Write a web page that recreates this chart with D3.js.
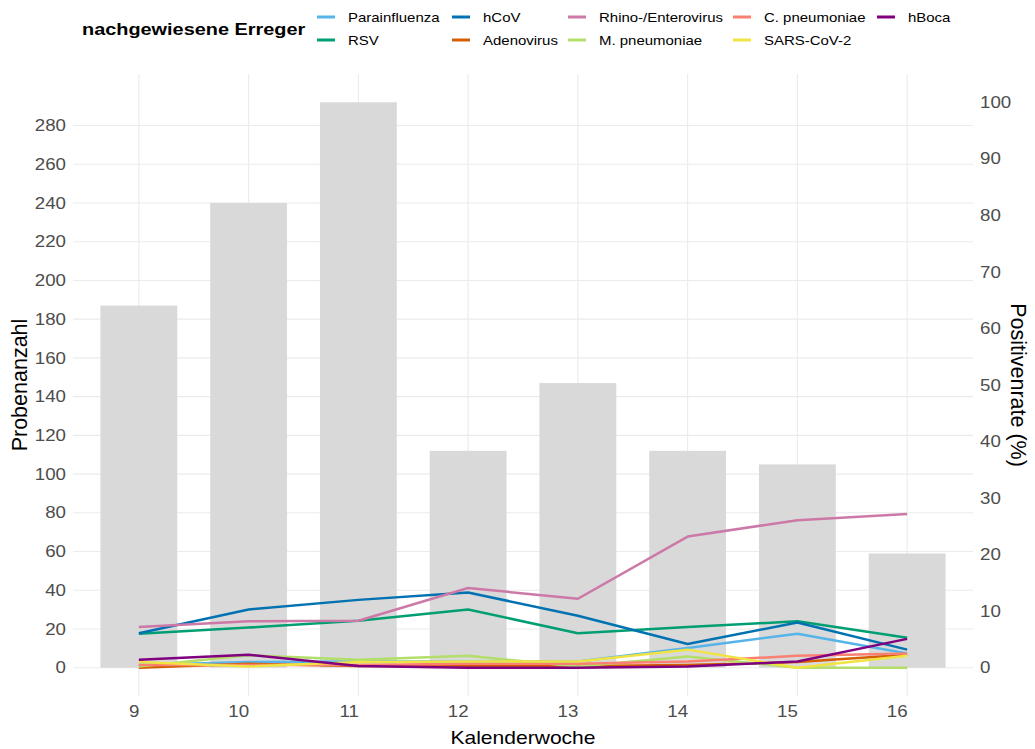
<!DOCTYPE html>
<html><head><meta charset="utf-8">
<script src="https://cdn.jsdelivr.net/npm/d3@7"></script>
<style>body{margin:0;background:#fff} svg{display:block;font-family:"Liberation Sans",Arial,sans-serif}</style>
</head><body><svg id="c" width="1035" height="749"></svg>
<script>
// ---- data ----
const weeks = ["9","10","11","12","13","14","15","16"];
const sampleCounts = [187, 240, 292, 112, 147, 112, 105, 59];
const seriesNames = ["Parainfluenza","RSV","hCoV","Adenovirus","Rhino-/Enterovirus","M. pneumoniae","C. pneumoniae","SARS-CoV-2","hBoca"];
const seriesColors = ["#56B4E9","#009E73","#0072B2","#D55E00","#CC79A7","#B3DE69","#FA8072","#F0E442","#800080"];
const parainfluenza = [0.5, 1.0, 1.1, 1.1, 1.1, 3.5, 6.0, 2.5];
const rsv           = [6.0, 7.1, 8.3, 10.3, 6.1, 7.2, 8.2, 5.3];
const hcov          = [6.1, 10.3, 12.0, 13.3, 9.2, 4.2, 8.0, 3.2];
const adenovirus    = [0.0, 0.7, 0.3, 0.3, 0.3, 0.5, 1.0, 2.3];
const rhino         = [7.2, 8.2, 8.3, 14.1, 12.2, 23.2, 26.1, 27.2];
const mpneumoniae   = [0.2, 2.2, 1.4, 2.1, 0.2, 2.0, 0.0, 0.0];
const cpneumoniae   = [0.5, 0.5, 0.5, 0.7, 0.7, 1.1, 2.1, 2.5];
const sarscov2      = [1.0, 0.2, 1.0, 1.1, 1.1, 3.2, 0.0, 2.1];
const hboca         = [1.4, 2.3, 0.3, 0.0, 0.0, 0.2, 1.1, 5.1];
const leftTicks = [0,20,40,60,80,100,120,140,160,180,200,220,240,260,280];
const rightTicks = [0,10,20,30,40,50,60,70,80,90,100];
const secFactor = 2.92; // 100 % == 292 samples

const seriesValues = [parainfluenza, rsv, hcov, adenovirus, rhino, mpneumoniae, cpneumoniae, sarscov2, hboca];

// ---- layout ----
const svg = d3.select("#c");
const P = {l:73, r:973, t:74, b:696};
const SX = 1.17; // horizontal text stretch
const maxY = d3.max(sampleCounts);
const x = d3.scalePoint().domain(weeks).range([P.l, P.r]).padding(0.6);
const step = x.step();
const yL = d3.scaleLinear().domain([-0.05*maxY, 1.05*maxY]).range([P.b, P.t]);
const yR = d3.scaleLinear().domain(yL.domain().map(v => v/secFactor)).range([P.b, P.t]);

function stretchAbout(sel){
  sel.each(function(){
    const t = d3.select(this);
    const tx = +t.attr("x") || 0, ty = +t.attr("y") || 0;
    const prev = t.attr("transform") || "";
    t.attr("transform", prev + ` translate(${tx},${ty}) scale(${SX},1) translate(${-tx},${-ty})`);
  });
}

// grid
const grid = svg.append("g");
grid.selectAll("line.h").data(leftTicks).join("line")
  .attr("x1", P.l).attr("x2", P.r).attr("y1", d => yL(d)).attr("y2", d => yL(d))
  .attr("stroke", "#EBEBEB").attr("stroke-width", 1.1);
grid.selectAll("line.v").data(weeks).join("line")
  .attr("x1", d => x(d)).attr("x2", d => x(d)).attr("y1", P.t).attr("y2", P.b)
  .attr("stroke", "#EBEBEB").attr("stroke-width", 1.1);

// bars
svg.append("g").selectAll("rect").data(weeks).join("rect")
  .attr("x", d => x(d) - step*0.35).attr("width", step*0.7)
  .attr("y", (d,i) => yL(sampleCounts[i])).attr("height", (d,i) => yL(0) - yL(sampleCounts[i]))
  .attr("fill", "#D9D9D9");

// lines
const line = d3.line().x((d,i) => x(weeks[i])).y(d => yR(d));
svg.append("g").selectAll("path").data(seriesValues).join("path")
  .attr("d", d => line(d)).attr("fill", "none")
  .attr("stroke", (d,i) => seriesColors[i]).attr("stroke-width", 2.5)
  .attr("stroke-linejoin", "round");

// axes
function styleAxis(g){
  g.select(".domain").remove();
  g.selectAll(".tick line").remove();
  g.selectAll("text").attr("fill", "#4D4D4D").attr("font-size", 16).attr("font-family", '"Liberation Sans",Arial,sans-serif');
}
const gl = svg.append("g").attr("transform", `translate(${P.l},0)`)
  .call(d3.axisLeft(yL).tickValues(leftTicks).tickSize(0).tickPadding(7));
styleAxis(gl); gl.selectAll("text").attr("x", -7).call(stretchAbout);

const gr = svg.append("g").attr("transform", `translate(${P.r - 1},0)`)
  .call(d3.axisRight(yR).tickValues(rightTicks).tickSize(0).tickPadding(8));
styleAxis(gr); gr.selectAll("text").attr("x", 8).call(stretchAbout);

const gb = svg.append("g").attr("transform", `translate(0,${P.b})`)
  .call(d3.axisBottom(x).tickSize(0).tickPadding(10));
styleAxis(gb); gb.selectAll("text").attr("text-anchor", "end").attr("x", 0).call(stretchAbout);

// axis titles
const xt = svg.append("text").attr("x", (P.l+P.r)/2).attr("y", 744).attr("text-anchor", "middle")
  .attr("font-size", 18).attr("fill", "#000").text("Kalenderwoche");
stretchAbout(xt);
svg.append("text").attr("transform", `translate(27,${(P.t+P.b)/2}) rotate(-90)`)
  .attr("text-anchor", "middle").attr("font-size", 21.5).attr("fill", "#000").text("Probenanzahl");
svg.append("text").attr("transform", `translate(1011,${(P.t+P.b)/2}) rotate(90)`)
  .attr("text-anchor", "middle").attr("font-size", 21.5).attr("fill", "#000").text("Positivenrate (%)");

// legend
const lt = svg.append("text").attr("x", 82).attr("y", 35).attr("font-size", 17).attr("font-weight", "bold")
  .attr("fill", "#000").text("nachgewiesene Erreger");
stretchAbout(lt);
const colX = [317, 452, 568, 733, 877];
const rowY = [17, 40];
const lg = svg.append("g");
seriesNames.forEach((name, i) => {
  const cx = colX[Math.floor(i/2)], cy = rowY[i%2];
  lg.append("line").attr("x1", cx).attr("x2", cx+18).attr("y1", cy).attr("y2", cy)
    .attr("stroke", seriesColors[i]).attr("stroke-width", 3);
  const t = lg.append("text").attr("x", cx+31).attr("y", cy+4.6).attr("font-size", 12.8)
    .attr("fill", "#000").text(name);
  stretchAbout(t);
});
</script></body></html>
